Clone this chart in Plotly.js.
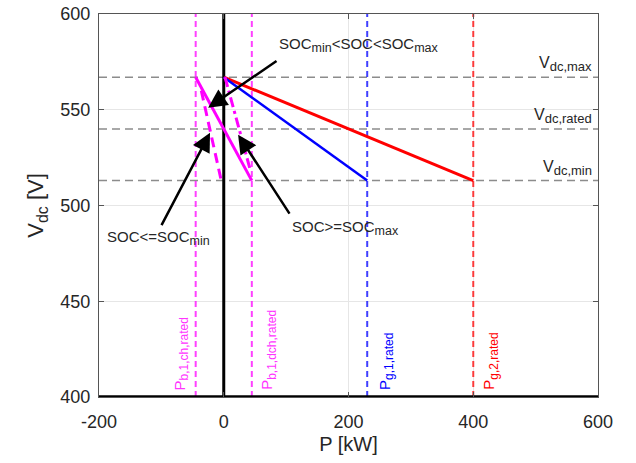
<!DOCTYPE html>
<html>
<head>
<meta charset="utf-8">
<script src="https://cdn.plot.ly/plotly-3.0.1.min.js"></script>
<style>html,body{margin:0;padding:0;background:#fff;}#chart{width:636px;height:463px;}</style>
</head>
<body>
<div id="chart"></div>
<script>
// ---- data ----
const redX = [0, 400];
const redY = [567, 513];
const blueX = [0, 230];
const blueY = [567, 513];
const magSolidX = [-45, 45];
const magSolidY = [567, 513];
const magDashX = [-36, -4];
const magDashY = [560, 513];
const magDashDotX = [2, 43];
const magDashDotY = [567, 518];
const vLevels = [567, 540, 513];
const vSubs = ['dc,max', 'dc,rated', 'dc,min'];
const pRated = [-45, 45, 230, 400];
const pSubs = ['b,1,ch,rated', 'b,1,dch,rated', 'g,1,rated', 'g,2,rated'];
const pColors = ['rgba(255,0,255,0.75)', 'rgba(255,0,255,0.75)', 'rgba(0,0,255,0.75)', 'rgba(255,0,0,0.75)'];
const pTextColors = ['#ff33ff', '#ff33ff', '#0000ff', '#ff0000'];
const xRange = [-200, 600];
const yRange = [400, 600];
const xTicks = [-200, 0, 200, 400, 600];
const xTickText = ['-200', '0', '200', '400', '600'];
const yTicks = [400, 450, 500, 550, 600];
const arrowHeads = [[-25, 551], [-22, 538], [23, 537]];
const arrowTails = [[87, 576], [-101, 489], [107, 495]];
const socTexts = [
  'SOC<sub><span style="font-size:12.5px">min</span></sub><SOC<SOC<sub><span style="font-size:12.5px">max</span></sub>',
  'SOC<=SOC<sub><span style="font-size:12.5px">min</span></sub>',
  'SOC>=SOC<sub><span style="font-size:12.5px">max</span></sub>'];
const socTextPos = [[217, 584], [-104, 483], [195, 488]];

const sub = (t, s) => '<sub><span style="font-size:' + s + 'px">' + t + '</span></sub>';

const traces = [];
vLevels.forEach(v => traces.push({x: xRange, y: [v, v], mode: 'lines', line: {color: '#8c8c8c', width: 1.5, dash: '8px,5px'}, hoverinfo: 'skip'}));
pRated.forEach((p, i) => traces.push({x: [p, p], y: yRange, mode: 'lines', line: {color: pColors[i], width: 2, dash: '6px,4px'}, hoverinfo: 'skip'}));
traces.push({x: [0, 0], y: yRange, mode: 'lines', line: {color: '#000', width: 3}});
traces.push({x: xRange, y: [400, 400], mode: 'lines', line: {color: '#000', width: 3.5}});
traces.push({x: redX, y: redY, mode: 'lines', line: {color: '#ff0000', width: 3}});
traces.push({x: blueX, y: blueY, mode: 'lines', line: {color: '#0000ff', width: 2.5}});
traces.push({x: magSolidX, y: magSolidY, mode: 'lines', line: {color: '#ff00ff', width: 3}});
traces.push({x: magDashX, y: magDashY, mode: 'lines', line: {color: '#ff00ff', width: 3, dash: '10px,6px'}});
traces.push({x: magDashDotX, y: magDashDotY, mode: 'lines', line: {color: '#ff00ff', width: 3, dash: '10px,4px,3px,4px'}});

const fontFam = 'Liberation Sans, Arial, sans-serif';
const annotations = [];
vLevels.forEach((v, i) => annotations.push({x: 594, y: v, xref: 'x', yref: 'y', text: 'V' + sub(vSubs[i], 13), showarrow: false, xanchor: 'right', yanchor: 'bottom', yshift: 1, font: {family: fontFam, size: 16, color: '#262626'}}));
const pXs = [-69, 72, 259, 427];
pRated.forEach((p, i) => {
  annotations.push({x: pXs[i], y: 402.5, xref: 'x', yref: 'y', text: 'P' + sub(pSubs[i], 12), showarrow: false, textangle: -90, xanchor: 'center', yanchor: 'bottom', font: {family: fontFam, size: 15, color: pTextColors[i]}});
});
arrowHeads.forEach((h, i) => annotations.push({x: h[0], y: h[1], ax: arrowTails[i][0], ay: arrowTails[i][1], axref: 'x', ayref: 'y', xref: 'x', yref: 'y', text: '', showarrow: true, arrowhead: 2, arrowsize: 1.5, arrowwidth: 2.5, arrowcolor: '#000'}));
socTexts.forEach((t, i) => annotations.push({x: socTextPos[i][0], y: socTextPos[i][1], xref: 'x', yref: 'y', text: t, showarrow: false, font: {family: fontFam, size: 15, color: '#262626'}}));

const layout = {
  width: 636, height: 463,
  margin: {l: 99, r: 38, t: 14, b: 66},
  paper_bgcolor: '#fff', plot_bgcolor: '#fff',
  showlegend: false,
  font: {family: fontFam, color: '#262626'},
  xaxis: {range: xRange, tickvals: xTicks, ticktext: xTickText, showgrid: true, gridcolor: '#e6e6e6', zeroline: false,
    showline: true, linecolor: '#555', linewidth: 1, mirror: 'ticks', ticks: 'inside', ticklen: 5, tickcolor: '#555',
    tickfont: {size: 18, color: '#262626'}, ticklabelstandoff: 8,
    title: {text: 'P [kW]', font: {size: 20, color: '#262626'}, standoff: 6}},
  yaxis: {range: yRange, tickvals: yTicks, showgrid: true, gridcolor: '#e6e6e6', zeroline: false,
    showline: true, linecolor: '#555', linewidth: 1, mirror: 'ticks', ticks: 'inside', ticklen: 5, tickcolor: '#555',
    tickfont: {size: 18, color: '#262626'}, ticklabelstandoff: 4,
    title: {text: 'V' + sub('dc', 16) + ' [V]', font: {size: 22, color: '#262626'}, standoff: 10}},
  annotations: annotations
};
Plotly.newPlot('chart', traces, layout, {displayModeBar: false, staticPlot: true});
</script>
</body>
</html>
